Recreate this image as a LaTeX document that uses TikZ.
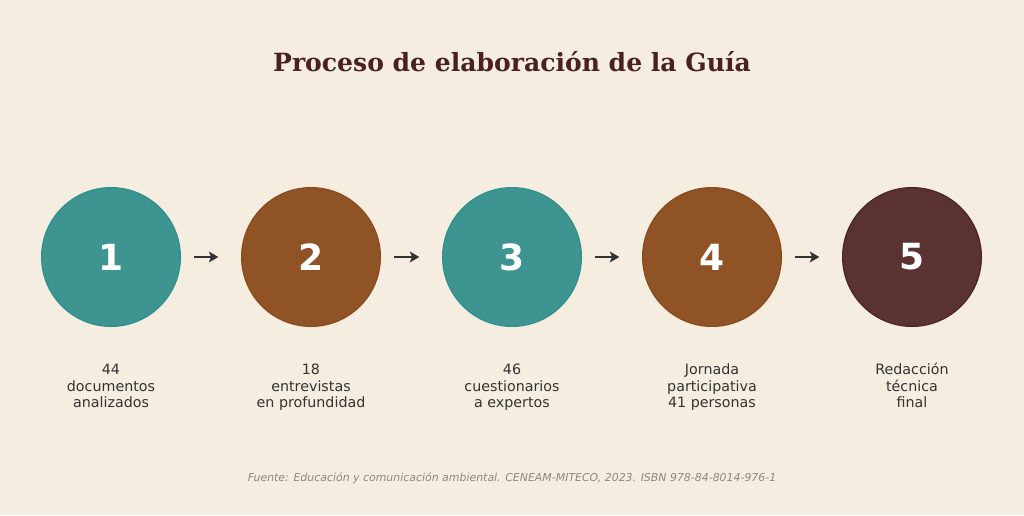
\documentclass[tikz,border=0pt]{standalone}
\usepackage{fontspec}
\setmainfont{DejaVu Sans}
\newfontfamily\titlefont{DejaVu Serif}
\usetikzlibrary{arrows.meta}
\definecolor{fondo}{HTML}{F5EDE0}
\definecolor{teal}{HTML}{3D9491}
\definecolor{tealb}{HTML}{32908C}
\definecolor{marron}{HTML}{8F5326}
\definecolor{marronb}{HTML}{8A4C1E}
\definecolor{granate}{HTML}{5A3232}
\definecolor{granateb}{HTML}{4E2626}
\definecolor{titulo}{HTML}{4A2020}
\definecolor{texto}{HTML}{333333}
\definecolor{gris}{HTML}{8C8780}
% tres lineas con la primera a altura fija
\newcommand{\tresl}[3]{\rule{0pt}{10pt}#1\\#2\\#3}

\begin{document}
\begin{tikzpicture}[x=0.75pt,y=-0.75pt,
  paso/.style={circle,minimum size=104pt,inner sep=0pt,line width=1pt,text=white,
    font=\fontsize{27}{30}\selectfont\bfseries},
  etiqueta/.style={anchor=north,inner sep=0pt,align=center,text=texto,
    font=\fontsize{10.7}{12.4}\selectfont},
  flecha/.style={-{Stealth[length=7pt,width=8pt,inset=1.5pt]},line width=2pt,draw=texto,
    shorten <=10pt,shorten >=17pt}]
\fill [fondo] (0,0) rectangle (1024,515);
\useasboundingbox (0,0) rectangle (1024,515);
\node [text=titulo,font=\titlefont\fontsize{18.8}{22}\selectfont\bfseries] (titulo) at (512,62) {Proceso de elaboración de la Guía};
\node [paso,fill=teal,draw=tealb] (p1) at (111,257) {1};
\node [paso,fill=marron,draw=marronb] (p2) at (311,257) {2};
\node [paso,fill=teal,draw=tealb] (p3) at (512,257) {3};
\node [paso,fill=marron,draw=marronb] (p4) at (712,257) {4};
\node [paso,fill=granate,draw=granateb] (p5) at (912,257) {5};
\draw [flecha] (p1) -- (p2);
\draw [flecha] (p2) -- (p3);
\draw [flecha] (p3) -- (p4);
\draw [flecha] (p4) -- (p5);
\node [etiqueta] (e1) at (111,361) {\tresl{44}{documentos}{analizados}};
\node [etiqueta] (e2) at (311,361) {\tresl{18}{entrevistas}{en profundidad}};
\node [etiqueta] (e3) at (512,361) {\tresl{46}{cuestionarios}{a expertos}};
\node [etiqueta] (e4) at (712,361) {\tresl{Jornada}{participativa}{41 personas}};
\node [etiqueta] (e5) at (912,361) {\tresl{Redacción}{técnica}{final}};
\node [text=gris,font=\fontsize{8.2}{10}\selectfont\itshape] (fuente) at (512,478) {Fuente: Educación y comunicación ambiental. CENEAM-MITECO, 2023. ISBN 978-84-8014-976-1};
\end{tikzpicture}
\end{document}
